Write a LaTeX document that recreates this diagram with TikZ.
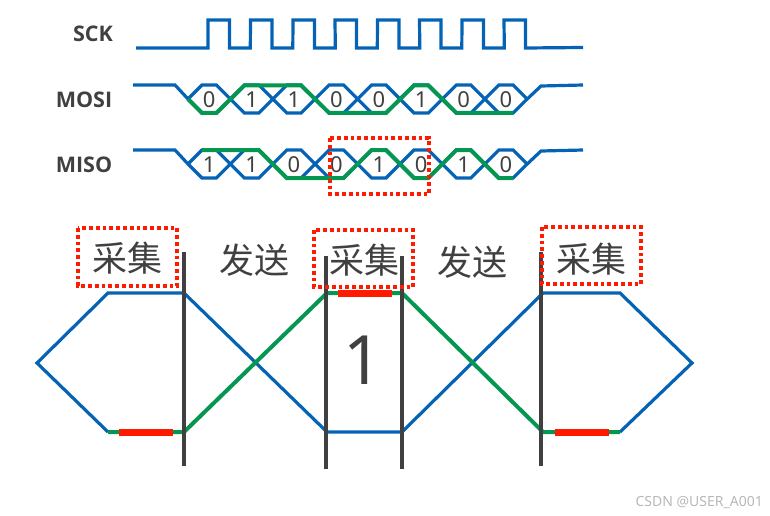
\documentclass[tikz,border=0pt]{standalone}
\usepackage{fontspec}
\setmainfont{Noto Sans}
\newfontfamily\cjk{Noto Sans CJK SC}
\newfontfamily\labfont{Open Sans}
\definecolor{sigblue}{HTML}{0563B5}
\definecolor{siggreen}{HTML}{059652}
\definecolor{sigred}{HTML}{FF1A00}
\definecolor{ink}{HTML}{404040}
\tikzset{
  sigb/.style={draw=sigblue,line width=3.2pt,line join=miter},
  sigg/.style={draw=siggreen,line width=4pt,line join=miter},
  redbar/.style={draw=sigred,line width=7pt},
  divider/.style={draw=ink,line width=4pt},
  dotbox/.style={draw=sigred,line width=4pt,dash pattern=on 3.8pt off 3pt},
  siglabel/.style={text=ink,font=\labfont\bfseries\fontsize{21.5}{25}\selectfont,inner sep=0pt},
  bitlabel/.style={text=ink,font=\fontsize{22}{26}\selectfont,inner sep=0pt},
  cjklabel/.style={text=ink,font=\cjk\fontsize{35}{40}\selectfont,inner sep=0pt},
}
\begin{document}
\begin{tikzpicture}[x=1pt,y=-1pt]
\useasboundingbox (0,0) rectangle (770,516);
% SCK
\draw[sigb] (136,48) -- (208,48)
  \foreach \r in {208,250.5,293,335,377.5,419.5,462,504}{
    -- (\r,20) -- ({\r+21.5},20) -- ({\r+21.5},48)
    \ifdim\r pt<504pt -- ({\r+42.3},48)\fi
  } -- (583,47.5);
\node[siglabel] (sck) at (93,34) {SCK};
\node[siglabel] (mosi) at (84,100) {MOSI};
\node[siglabel] (miso) at (84,165) {MISO};
% bus waveforms, blue
\foreach \m in {99,164}{
  \draw[sigb] (133,{\m-14}) -- (175,{\m-14}) -- (188,\m);
  \draw[sigb] (527.2,\m) -- (541,{\m-13}) -- (583,{\m-14});
  \foreach \i in {0,...,7}{
    \pgfmathsetmacro{\ca}{188+42.4*\i}
    \pgfmathsetmacro{\cb}{\ca+42.4}
    \draw[sigb,line cap=round] (\ca,\m) -- ({\ca+14},{\m-14}) -- ({\cb-14},{\m-14}) -- (\cb,\m);
    \draw[sigb,line cap=round] (\ca,\m) -- ({\ca+14},{\m+14}) -- ({\cb-14},{\m+14}) -- (\cb,\m);
  }
}
% bus waveforms, green
\draw[sigg] (188,99) -- (202,113) -- (216.4,113) -- (244.4,85.5) -- (301.2,85.5) -- (329.2,113) -- (386,113) -- (414,85.5) -- (428.4,85.5) -- (456.4,113) -- (513.2,113);
\draw[sigg] (202,150) -- (258.8,150) -- (286.8,178) -- (343.6,178) -- (371.6,150) -- (386,150) -- (414,178) -- (428.4,178) -- (456.4,150) -- (470.8,150) -- (498.8,178) -- (513.2,178);
% bits
\foreach \b [count=\i from 0] in {0,1,1,0,0,1,0,0}{
  \node[bitlabel] (mo\i) at ({209.2+42.4*\i},100) {\b};
}
\foreach \b [count=\i from 0] in {1,1,0,0,1,0,1,0}{
  \node[bitlabel] (mi\i) at ({209.2+42.4*\i},165) {\b};
}
\draw[dotbox] (330,138) rectangle (429,194);
% enlarged eye
\draw[sigb] (108,432) -- (37,363) -- (108,293) -- (184,293) -- (327,432) -- (402,432) -- (543,293) -- (620,293) -- (692,363) -- (620,432);
\draw[sigg] (108,432) -- (184,432) -- (327,293) -- (402,293) -- (543,432) -- (620,432);
\draw[redbar] (119,432) -- (173,432);
\draw[redbar] (338,293) -- (392,293);
\draw[redbar] (555,432) -- (609,432);
\draw[divider] (184,252) -- (184,466);
\draw[divider] (326,256) -- (326,469);
\draw[divider] (402,256) -- (402,469);
\draw[divider] (541,252) -- (541,466);
\draw[dotbox] (78,228) rectangle (177,286);
\draw[dotbox] (314,230) rectangle (413,287);
\draw[dotbox] (542,227) rectangle (641,284);
\node[cjklabel] (c1) at (127,258) {采集};
\node[cjklabel] (s1) at (254,260) {发送};
\node[cjklabel] (c2) at (364,260) {采集};
\node[cjklabel] (s2) at (472,262) {发送};
\node[cjklabel] (c3) at (591,259) {采集};
\node[text=ink,font=\fontsize{68}{72}\selectfont,inner sep=0pt] (one) at (363,360) {1};
\node[text=black!28,font=\fontsize{14}{16}\selectfont,inner sep=0pt,anchor=east] (wm) at (763,502) {CSDN @USER\_A001};
\end{tikzpicture}
\end{document}
